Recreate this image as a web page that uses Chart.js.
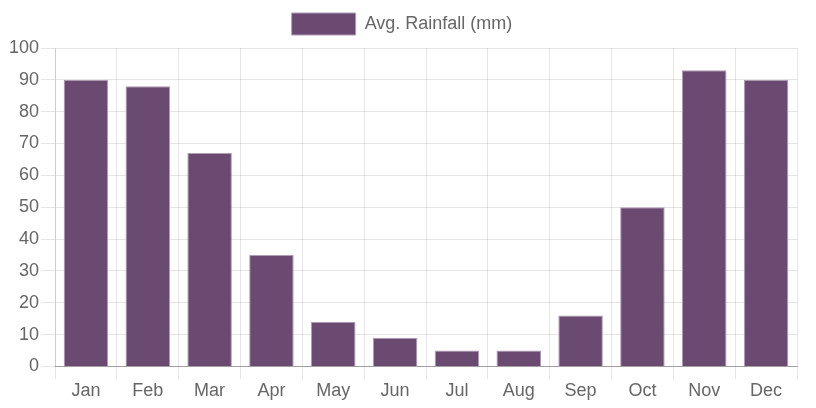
<!DOCTYPE html>
<html lang="en">
<head>
    <meta charset="UTF-8">
    <title>Avg. Rainfall</title>
    <script src="https://cdn.jsdelivr.net/npm/chart.js"></script>
    <style>
        html, body {
            margin: 0;
            padding: 0;
            background: white;
        }
        .chart-box {
            width: 816px;
            height: 408px;
        }
    </style>
</head>
<body>
    <div class="chart-box">
        <canvas id="rainChart"></canvas>
    </div>

    <script>
        const months = ['Jan', 'Feb', 'Mar', 'Apr', 'May', 'Jun', 'Jul', 'Aug', 'Sep', 'Oct', 'Nov', 'Dec'];
        const rainfall = [90, 88, 67, 35, 14, 9, 5, 5, 16, 50, 93, 90];
        const seriesLabel = 'Avg. Rainfall (mm)';
        const yMin = 0;
        const yMax = 100;
        const yStep = 10;

        Chart.defaults.font.family = '"Liberation Sans", Arial, sans-serif';
        Chart.defaults.color = '#666';

        // a bit more room under the legend than the default gives
        const legendGap = {
            id: 'legendGap',
            afterInit(chart) {
                const fit = chart.legend.fit;
                chart.legend.fit = function () {
                    fit.call(this);
                    this.height += 3;
                };
            }
        };

        const ctx = document.getElementById('rainChart').getContext('2d');
        new Chart(ctx, {
            type: 'bar',
            data: {
                labels: months,
                datasets: [{
                    label: seriesLabel,
                    data: rainfall,
                    backgroundColor: '#6b4a72',
                    borderColor: '#b09bb5',
                    borderWidth: 1
                }]
            },
            options: {
                responsive: true,
                maintainAspectRatio: false,
                animation: false,
                layout: {
                    padding: { left: 7, right: 19, top: 0, bottom: 5 }
                },
                plugins: {
                    legend: {
                        labels: {
                            boxWidth: 64,
                            boxHeight: 22,
                            font: { size: 18 },
                            padding: 13
                        }
                    },
                    tooltip: { enabled: false }
                },
                scales: {
                    x: {
                        grid: {
                            color: c => c.index === months.length ? 'rgba(0,0,0,0)' : 'rgba(0,0,0,0.1)',
                            tickLength: 13
                        },
                        border: { color: 'rgba(0,0,0,0.3)' },
                        ticks: { font: { size: 18 }, padding: 1 }
                    },
                    y: {
                        min: yMin,
                        max: yMax,
                        grid: { color: 'rgba(0,0,0,0.1)', tickLength: 14 },
                        border: { color: 'rgba(0,0,0,0.1)' },
                        ticks: { stepSize: yStep, font: { size: 18 }, padding: 2 }
                    }
                }
            },
            plugins: [legendGap]
        });
    </script>
</body>
</html>
